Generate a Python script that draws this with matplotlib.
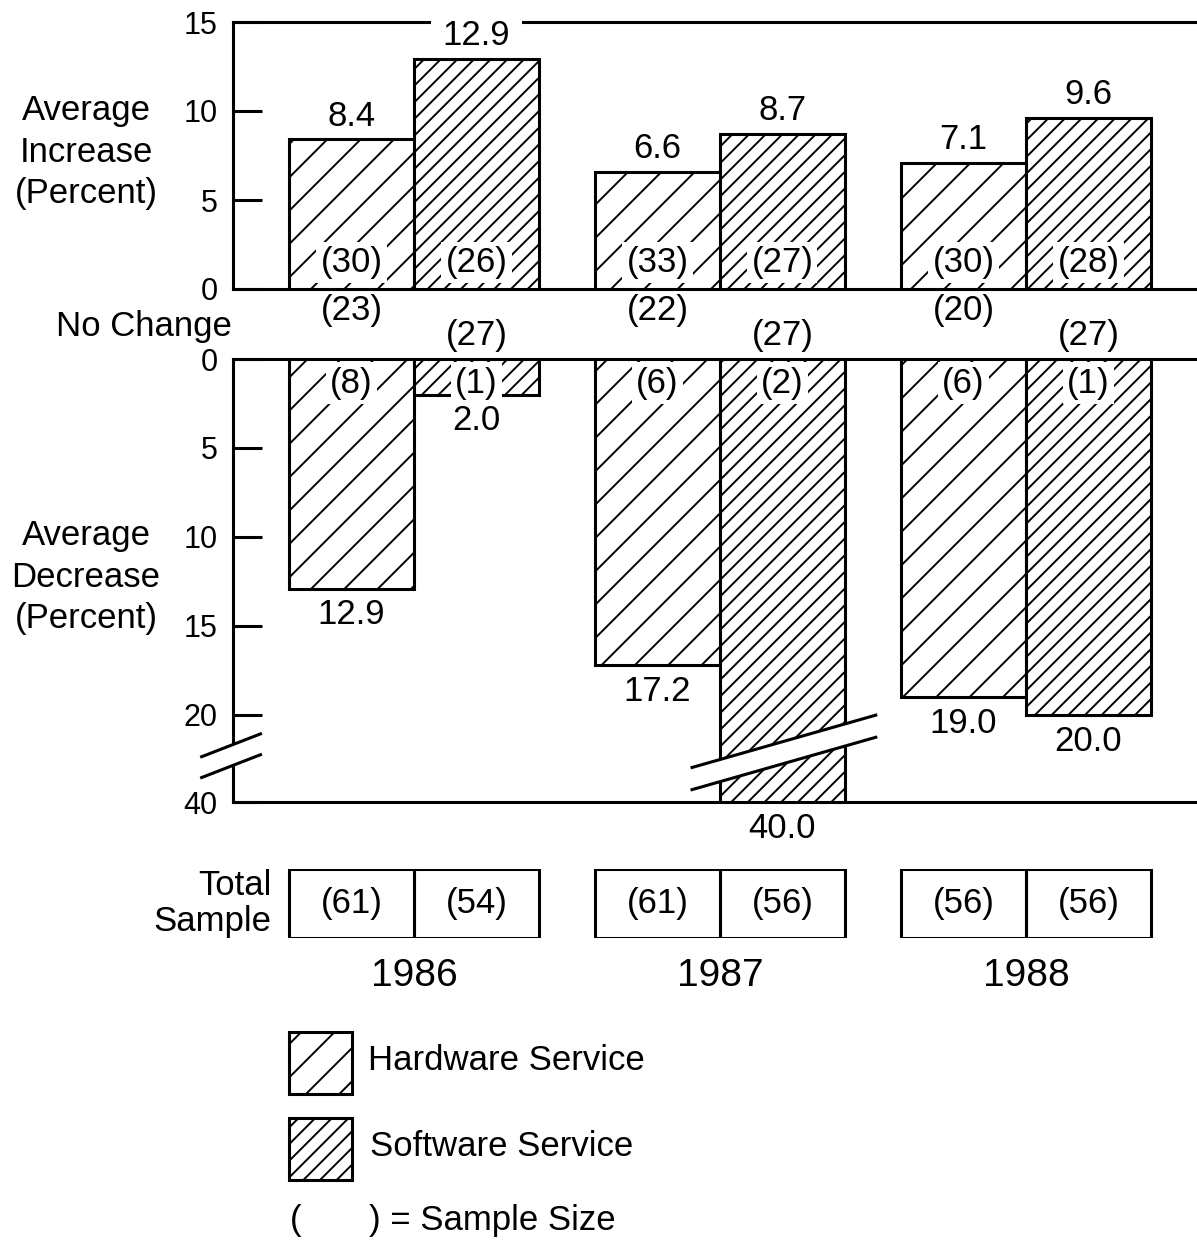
import numpy as np
import matplotlib
matplotlib.use("Agg")
import matplotlib.pyplot as plt
from matplotlib.patches import Rectangle, Polygon

plt.rcParams['font.family'] = ['Liberation Sans', 'DejaVu Sans']
plt.rcParams['hatch.linewidth'] = 1.4

# ---- data ----
years = ["1986", "1987", "1988"]
hw_inc = [8.4, 6.6, 7.1]
sw_inc = [12.9, 8.7, 9.6]
hw_inc_n = [30, 33, 30]
sw_inc_n = [26, 27, 28]
hw_same_n = [23, 22, 20]
sw_same_n = [27, 27, 27]
hw_dec = [12.9, 17.2, 19.0]
sw_dec = [2.0, 40.0, 20.0]
hw_dec_n = [8, 6, 6]
sw_dec_n = [1, 2, 1]
hw_total = [61, 61, 56]
sw_total = [54, 56, 56]

inc_ticks = [0, 5, 10, 15]
dec_ticks = [0, 5, 10, 15, 20, 40]

# ---- layout ----
W, H = 1197, 1241
FS = 25
LW = 2.2
HW_HATCH = '/'
SW_HATCH = '//'

x = np.arange(len(years))
w = 0.408
xlim = (-0.5915, 2.559)

# broken scale for the decrease axis: above 20 it is squeezed
BRK, K = 20.0, 0.245


def fwd(v):
    v = np.asarray(v, float)
    return np.where(v <= BRK, v, BRK + (v - BRK) * K)


def inv(u):
    u = np.asarray(u, float)
    return np.where(u <= BRK, u, BRK + (u - BRK) / K)


def fig_box(x0, y0, x1, y1):
    # pixel box (top-left origin) -> figure fraction rect
    return [x0 / W, 1 - y1 / H, (x1 - x0) / W, (y1 - y0) / H]


fig = plt.figure(figsize=(W / 100, H / 100), dpi=100)
ax1 = fig.add_axes(fig_box(233, 22, W, 289))
ax2 = fig.add_axes(fig_box(233, 359, W, 802))
ax3 = fig.add_axes(fig_box(233, 869, W, 938))


def style_axis(ax, ticks):
    ax.set_xlim(*xlim)
    ax.set_xticks([])
    ax.spines['right'].set_visible(False)
    for s in ('top', 'bottom', 'left'):
        ax.spines[s].set_linewidth(LW)
    ax.set_yticks(ticks)
    ax.set_yticklabels([str(t) for t in ticks])
    ax.tick_params(axis='y', direction='in', length=21, width=LW,
                   pad=11, labelsize=22)


bar_kw = dict(width=w, facecolor='white', edgecolor='black', linewidth=LW, zorder=3)
lab_box = dict(boxstyle='square,pad=0.12', fc='white', ec='none')

# ---- increase panel ----
ax1.bar(x - w / 2, hw_inc, hatch=HW_HATCH, **bar_kw)
ax1.bar(x + w / 2, sw_inc, hatch=SW_HATCH, **bar_kw)
ax1.set_ylim(0, 15)
style_axis(ax1, inc_ticks)

for i in range(len(years)):
    for xx, v, n in ((x[i] - w / 2, hw_inc[i], hw_inc_n[i]),
                     (x[i] + w / 2, sw_inc[i], sw_inc_n[i])):
        # white box (under the bars, over the frame) breaks the top line
        ax1.annotate(f"{v:.1f}", (xx, v), xytext=(0, 10), textcoords='offset points',
                     ha='center', va='baseline', fontsize=FS, zorder=2.8,
                     bbox=dict(boxstyle='square,pad=0.35', fc='white', ec='none'))
        ax1.text(xx, 1.5, f"({n})", ha='center', va='center', fontsize=FS,
                 bbox=lab_box, zorder=4)
    # no-change counts
    ax1.text(x[i] - w / 2, -1.2, f"({hw_same_n[i]})", ha='center', va='center',
             fontsize=FS)
    ax2.text(x[i] + w / 2, -1.3, f"({sw_same_n[i]})", ha='center', va='center',
             fontsize=FS)

# ---- decrease panel ----
ax2.set_yscale('function', functions=(fwd, inv))
ax2.bar(x - w / 2, hw_dec, hatch=HW_HATCH, **bar_kw)
ax2.bar(x + w / 2, sw_dec, hatch=SW_HATCH, **bar_kw)
ax2.set_ylim(40, 0)
style_axis(ax2, dec_ticks)
ax2.minorticks_off()

for i in range(len(years)):
    for xx, v, n in ((x[i] - w / 2, hw_dec[i], hw_dec_n[i]),
                     (x[i] + w / 2, sw_dec[i], sw_dec_n[i])):
        ax2.annotate(f"{v:.1f}", (xx, v), xytext=(0, -7), textcoords='offset points',
                     ha='center', va='top', fontsize=FS, annotation_clip=False)
        ax2.text(xx, 1.35, f"({n})", ha='center', va='center', fontsize=FS,
                 bbox=lab_box, zorder=4)


def draw_break(ax, trans, xc, dx, y_hi, y_lo, dy):
    xs = [xc - dx, xc + dx]
    hi = [y_hi - dy, y_hi + dy]
    lo = [y_lo - dy, y_lo + dy]
    ax.add_patch(Polygon([[xs[0], hi[0]], [xs[1], hi[1]], [xs[1], lo[1]], [xs[0], lo[0]]],
                         closed=True, fc='white', ec='none', transform=trans,
                         clip_on=False, zorder=6))
    for ys in (hi, lo):
        ax.plot(xs, ys, color='black', lw=LW, transform=trans, clip_on=False,
                zorder=7, solid_capstyle='butt')


# break on the axis and on the 40.0 bar
draw_break(ax2, ax2.transAxes, -0.002, 0.032, 0.128, 0.081, 0.027)
draw_break(ax2, ax2.get_xaxis_transform(), x[1] + w / 2 + 0.005, 0.305, 0.137, 0.087, 0.060)
ax2.set_xlim(*xlim)

# ---- total sample boxes ----
ax3.set_xlim(*xlim)
ax3.set_ylim(0, 1)
ax3.axis('off')
ax3.bar(x - w / 2, 1, width=w, fill=False, edgecolor='black', linewidth=LW)
ax3.bar(x + w / 2, 1, width=w, fill=False, edgecolor='black', linewidth=LW)
for i in range(len(years)):
    ax3.text(x[i] - w / 2, 0.5, f"({hw_total[i]})", ha='center', va='center', fontsize=FS)
    ax3.text(x[i] + w / 2, 0.5, f"({sw_total[i]})", ha='center', va='center', fontsize=FS)
    ax3.text(x[i], -0.55, years[i], ha='center', va='center', fontsize=28)
ax3.text(-0.465, 0.5, "Total\nSample", ha='right', va='center', fontsize=FS,
         multialignment='right', linespacing=1.15)

# ---- side labels ----
fig.text(86 / W, 1 - 152 / H, "Average\nIncrease\n(Percent)", ha='center', va='center',
         fontsize=FS, linespacing=1.33)
fig.text(86 / W, 1 - 577 / H, "Average\nDecrease\n(Percent)", ha='center', va='center',
         fontsize=FS, linespacing=1.33)
fig.text(232 / W, 1 - 336 / H, "No Change", ha='right', va='baseline', fontsize=FS)

# ---- legend ----
fig.add_artist(Rectangle((289 / W, 1 - 1094 / H), 63 / W, 62 / H, transform=fig.transFigure,
                         facecolor='white', edgecolor='black', lw=LW, hatch=HW_HATCH))
fig.add_artist(Rectangle((289 / W, 1 - 1180 / H), 63 / W, 62 / H, transform=fig.transFigure,
                         facecolor='white', edgecolor='black', lw=LW, hatch=SW_HATCH))
fig.text(368 / W, 1 - 1070 / H, "Hardware Service", va='baseline', fontsize=FS)
fig.text(370 / W, 1 - 1156 / H, "Software Service", va='baseline', fontsize=FS)
fig.text(290 / W, 1 - 1230 / H, "(       ) = Sample Size", va='baseline', fontsize=FS)

fig.savefig("out.png", dpi=100, facecolor='white')
